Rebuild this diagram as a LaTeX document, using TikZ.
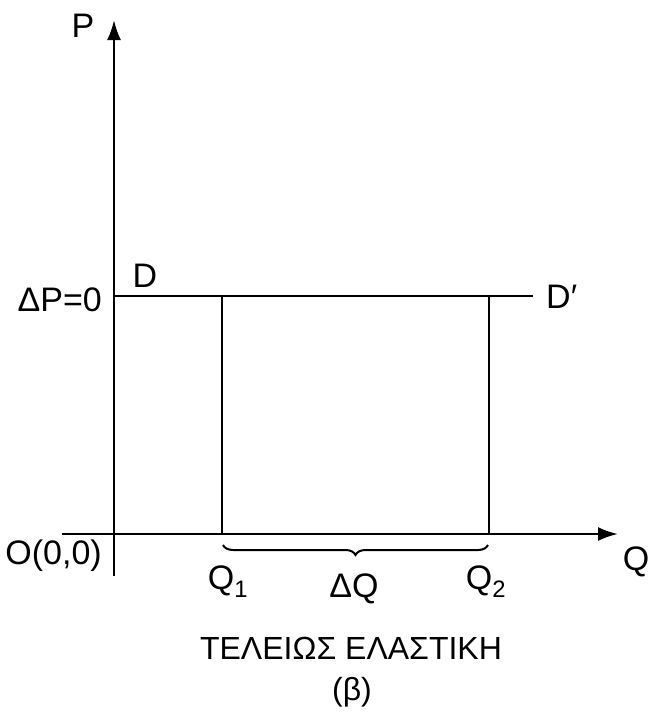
\documentclass[tikz,border=0pt]{standalone}
\usepackage{fontspec}
\setmainfont{Liberation Sans}
\usetikzlibrary{arrows.meta,decorations.pathreplacing}
\begin{document}
\begin{tikzpicture}[x=1pt,y=-1pt,
  axis/.style={line width=2.4pt,-{Latex[length=20pt,width=14pt]}},
  ln/.style={line width=2.2pt},
  lbl/.style={font=\fontsize{34}{36}\selectfont,inner sep=0pt},
  captxt/.style={font=\fontsize{32}{34}\selectfont,inner sep=0pt,anchor=base}]
\useasboundingbox (0,0) rectangle (653,715);
% axes
\coordinate (ybot) at (114,576);
\coordinate (ytop) at (114,20);
\coordinate (xl) at (62,534);
\coordinate (xr) at (618,534);
\draw[axis] (ybot) -- (ytop);
\draw[axis] (xl) -- (xr);
% demand line
\coordinate (D0) at (114,296);
\coordinate (D1) at (533,296);
\draw[ln] (D0) -- (D1);
% verticals
\coordinate (q1t) at (222,296);
\coordinate (q1b) at (222,534);
\coordinate (q2t) at (489,296);
\coordinate (q2b) at (489,534);
\draw[ln] (q1t) -- (q1b);
\draw[ln] (q2t) -- (q2b);
% brace
\coordinate (b1) at (223,545);
\coordinate (b2) at (488,545);
\draw[line width=2pt,decorate,decoration={brace,mirror,amplitude=10pt}] (b1) -- (b2);
% labels
\node[lbl] (P) at (83,26) {P};
\node[lbl] (D) at (145,276) {D};
\node[lbl,anchor=east] (dp) at (102,300) {ΔP=0};
\node[lbl,anchor=west] (Dp) at (546,297) {D′};
\node[lbl,anchor=east] (O) at (102,556) {O(0,0)};
\node[lbl] (Q) at (636,562) {Q};
\node[lbl] (Q1) at (228,582) {Q\textsubscript{1}};
\node[lbl] (dQ) at (354,589) {ΔQ};
\node[lbl] (Q2) at (486,582) {Q\textsubscript{2}};
\node[captxt] (t1) at (351,659) {ΤΕΛΕΙΩΣ ΕΛΑΣΤΙΚΗ};
\node[captxt] (t2) at (352,700) {(β)};
\end{tikzpicture}
\end{document}
